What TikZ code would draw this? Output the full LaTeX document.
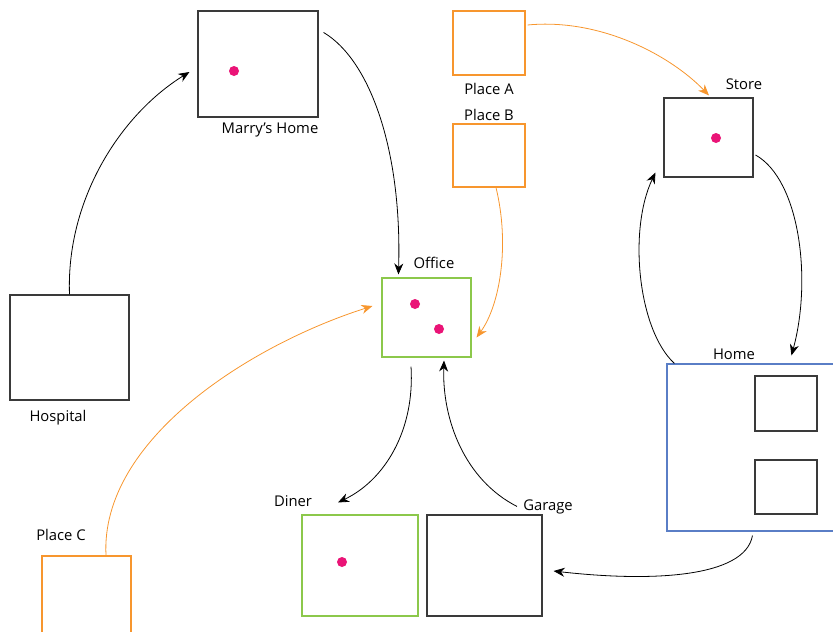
\documentclass[tikz,border=0pt]{standalone}
\usepackage{fontspec}
\setmainfont{Open Sans}
\usetikzlibrary{arrows.meta,calc}
\definecolor{boxgray}{HTML}{3A3A3A}
\definecolor{placeorange}{HTML}{F7962E}
\definecolor{visitgreen}{HTML}{8CC84B}
\definecolor{homeblue}{HTML}{5A7EC6}
\definecolor{dotpink}{HTML}{EA1477}
\begin{document}
\begin{tikzpicture}[x=1pt,y=-1pt,
  place/.style={draw=boxgray,line width=1.1pt,inner sep=0pt,fill=white},
  orangeplace/.style={place,draw=placeorange},
  greenplace/.style={place,draw=visitgreen},
  blueplace/.style={place,draw=homeblue},
  lbl/.style={font=\fontsize{14.8pt}{16pt}\selectfont,inner sep=0pt},
  person/.style={circle,fill=dotpink,inner sep=0pt,minimum size=10pt},
  trip/.style={line width=0.8pt,-{Stealth[length=11pt,width=9pt,inset=3.5pt]}},
  orangetrip/.style={trip,draw=placeorange,-{Stealth[length=11pt,width=9pt,inset=3.5pt,fill=placeorange]}}]
\useasboundingbox (0,0) rectangle (833,632);
\clip (0,0) rectangle (833,632);

% places
\node[place,minimum width=120pt,minimum height=106pt] (mh) at (258,64) {};
\node[orangeplace,minimum width=72pt,minimum height=64pt] (pa) at (489,43) {};
\node[orangeplace,minimum width=72pt,minimum height=63pt] (pb) at (489,155.5) {};
\node[place,minimum width=89pt,minimum height=79pt] (store) at (708.5,137.5) {};
\node[greenplace,minimum width=89pt,minimum height=79pt] (office) at (426.5,317.5) {};
\node[place,minimum width=119pt,minimum height=105pt] (hosp) at (69.5,347.5) {};
\node[blueplace,minimum width=180pt,minimum height=167pt] (home) at (757,447.5) {};
\node[place,minimum width=62pt,minimum height=55pt] (room1) at (786,403.5) {};
\node[place,minimum width=62pt,minimum height=54pt] (room2) at (786,487) {};
\node[greenplace,minimum width=116pt,minimum height=101pt] (diner) at (360,565.5) {};
\node[place,minimum width=115pt,minimum height=101pt] (garage) at (484.5,565.5) {};
\node[orangeplace,minimum width=89pt,minimum height=100pt] (pc) at (86.5,606) {};

% people
\node[person] (p1) at (234,71) {};
\node[person] (p2) at (716,138) {};
\node[person] (p3) at (415,304) {};
\node[person] (p4) at (439,329) {};
\node[person] (p5) at (342,562) {};

% labels
\node[lbl] (lmh) at (270,130) {Marry’s Home};
\node[lbl] (lpa) at (489,88.5) {Place A};
\node[lbl] (lpb) at (489,114.5) {Place B};
\node[lbl] (lstore) at (744,84) {Store};
\node[lbl] (loffice) at (434,263) {Office};
\node[lbl] (lhosp) at (58,418) {Hospital};
\node[lbl] (lhome) at (734,354) {Home};
\node[lbl] (ldiner) at (293,501) {Diner};
\node[lbl] (lgarage) at (548,507) {Garage};
\node[lbl] (lpc) at (61,535) {Place C};

% trips
\draw[trip] (hosp.north) .. controls (66,200) and (120,115) .. ($(mh.west)+(-8,8)$);
\draw[trip] ($(mh.north east)+(5,22)$) .. controls (370,60) and (402,150) .. ($(office.north west)+(17,-3)$);
\draw[orangetrip] ($(pa.east)+(2,-18)$) .. controls (600,18) and (670,55) .. ($(store.north)+(0.5,-2)$);
\draw[orangetrip] ($(pb.south)+(7,0)$) .. controls (510,245) and (500,305) .. ($(office.east)+(5,20)$);
\draw[orangetrip] ($(pc.north)+(19.5,0)$) .. controls (100,440) and (250,345) .. ($(office.west)+(-9,-11.5)$);
\draw[trip] ($(office.south)+(-15.5,9)$) .. controls (415,430) and (385,480) .. ($(diner.north)+(-22,-12)$);
\draw[trip] ($(garage.north)+(32.5,-8)$) .. controls (465,480) and (442,420) .. ($(office.south)+(17.5,3)$);
\draw[trip] ($(home.north west)+(8,0)$) .. controls (638,330) and (628,230) .. ($(store.south west)+(-8,-5)$);
\draw[trip] ($(store.east)+(2,17.5)$) .. controls (800,180) and (812,280) .. ($(home.north west)+(125,-8)$);
\draw[trip] ($(home.south west)+(86,4)$) .. controls (745,578) and (650,582) .. ($(garage.east)+(11,5.5)$);
\end{tikzpicture}
\end{document}
